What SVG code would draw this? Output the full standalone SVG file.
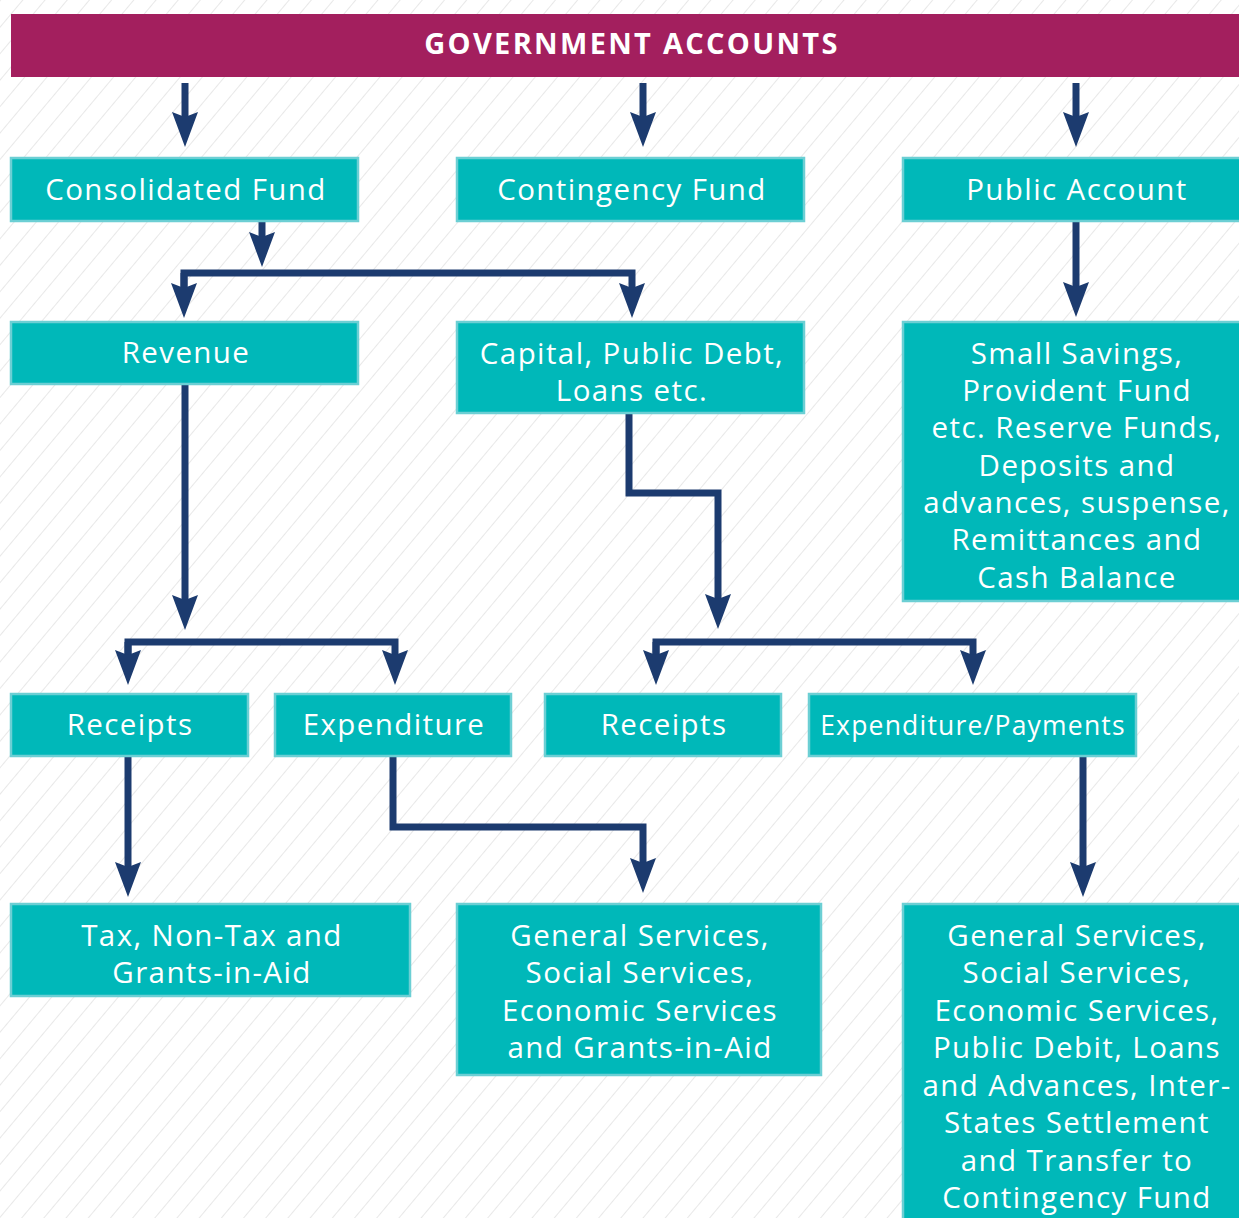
<svg xmlns="http://www.w3.org/2000/svg" width="1239" height="1218" viewBox="0 0 1239 1218">
<style>
.box{fill:#00b8b9;stroke:#6ccfd4;stroke-width:2.5}
.t{fill:#ffffff;font-family:"Open Sans","Noto Sans",sans-serif;font-size:29.5px;letter-spacing:1.4px;text-anchor:middle}
.h{fill:#ffffff;font-family:"Open Sans","Noto Sans",sans-serif;font-size:29px;font-weight:bold;letter-spacing:2.3px;text-anchor:middle}
.c{fill:none;stroke:#1c3b6f;stroke-width:7;stroke-linejoin:miter;stroke-linecap:butt}
</style>
<defs>
<pattern id="hatch" patternUnits="userSpaceOnUse" width="17" height="17" patternTransform="rotate(40)">
<line x1="0" y1="0" x2="0" y2="17" stroke="#e2e2e2" stroke-width="1.6"/>
</pattern>
<marker id="ah" markerUnits="userSpaceOnUse" viewBox="-8 -14 37 28" markerWidth="37" markerHeight="28" refX="0" refY="0" orient="auto">
<path d="M28,0 L-7,-13 L-2,0 L-7,13 Z" fill="#1c3b6f"/>
</marker>
</defs>
<rect width="1239" height="1218" fill="#ffffff"/>
<rect width="1239" height="1218" fill="url(#hatch)"/>

<g id="header">
<rect x="11" y="14" width="1228" height="63" fill="#a31f5e"/>
<text class="h" x="632" y="54">GOVERNMENT ACCOUNTS</text>
</g>

<g id="connectors">
<path class="c" d="M185,83 V119" marker-end="url(#ah)"/>
<path class="c" d="M643,83 V119" marker-end="url(#ah)"/>
<path class="c" d="M1076,83 V119" marker-end="url(#ah)"/>
<path class="c" d="M262,221 V239" marker-end="url(#ah)"/>
<path class="c" d="M184,290 V273 H632 V290" marker-end="url(#ah)"/>
<path class="c" d="M184,273 V290" marker-end="url(#ah)"/>
<path class="c" d="M1076,221 V289" marker-end="url(#ah)"/>
<path class="c" d="M185,384 V602" marker-end="url(#ah)"/>
<path class="c" d="M128,657 V642 H395 V657" marker-end="url(#ah)"/>
<path class="c" d="M128,642 V657" marker-end="url(#ah)"/>
<path class="c" d="M629,413 V493 H718 V601" marker-end="url(#ah)"/>
<path class="c" d="M656,657 V642 H973 V657" marker-end="url(#ah)"/>
<path class="c" d="M656,642 V657" marker-end="url(#ah)"/>
<path class="c" d="M128,756 V869" marker-end="url(#ah)"/>
<path class="c" d="M393,756 V827 H643 V865" marker-end="url(#ah)"/>
<path class="c" d="M1083,756 V869" marker-end="url(#ah)"/>
</g>

<g id="consolidated-fund">
<rect class="box" x="11" y="158" width="347" height="63"/>
<text class="t" x="186" y="200">Consolidated Fund</text>
</g>
<g id="contingency-fund">
<rect class="box" x="457" y="158" width="347" height="63"/>
<text class="t" x="632" y="200">Contingency Fund</text>
</g>
<g id="public-account">
<rect class="box" x="903" y="158" width="340" height="63"/>
<text class="t" x="1077" y="200">Public Account</text>
</g>
<g id="revenue">
<rect class="box" x="11" y="322" width="347" height="62"/>
<text class="t" x="186" y="363">Revenue</text>
</g>
<g id="capital">
<rect class="box" x="457" y="322" width="347" height="91"/>
<text class="t" x="632" y="364">Capital, Public Debt,</text>
<text class="t" x="632" y="401">Loans etc.</text>
</g>
<g id="small-savings">
<rect class="box" x="903" y="322" width="340" height="279"/>
<text class="t" x="1077" y="364">Small Savings,</text>
<text class="t" x="1077" y="401">Provident Fund</text>
<text class="t" x="1077" y="438">etc. Reserve Funds,</text>
<text class="t" x="1077" y="476">Deposits and</text>
<text class="t" x="1077" y="513">advances, suspense,</text>
<text class="t" x="1077" y="550">Remittances and</text>
<text class="t" x="1077" y="588">Cash Balance</text>
</g>
<g id="receipts-revenue">
<rect class="box" x="11" y="694" width="237" height="62"/>
<text class="t" x="130" y="735">Receipts</text>
</g>
<g id="expenditure-revenue">
<rect class="box" x="275" y="694" width="236" height="62"/>
<text class="t" x="394" y="735">Expenditure</text>
</g>
<g id="receipts-capital">
<rect class="box" x="545" y="694" width="236" height="62"/>
<text class="t" x="664" y="735">Receipts</text>
</g>
<g id="expenditure-payments">
<rect class="box" x="809" y="694" width="327" height="62"/>
<text class="t" x="973" y="735" style="font-size:26.5px;letter-spacing:1.2px">Expenditure/Payments</text>
</g>
<g id="tax">
<rect class="box" x="11" y="904" width="399" height="92"/>
<text class="t" x="212" y="946">Tax, Non-Tax and</text>
<text class="t" x="212" y="983">Grants-in-Aid</text>
</g>
<g id="general-services-revenue">
<rect class="box" x="457" y="904" width="364" height="171"/>
<text class="t" x="640" y="946">General Services,</text>
<text class="t" x="640" y="983">Social Services,</text>
<text class="t" x="640" y="1021">Economic Services</text>
<text class="t" x="640" y="1058">and Grants-in-Aid</text>
</g>
<g id="general-services-capital">
<rect class="box" x="903" y="904" width="340" height="320"/>
<text class="t" x="1077" y="946">General Services,</text>
<text class="t" x="1077" y="983">Social Services,</text>
<text class="t" x="1077" y="1021">Economic Services,</text>
<text class="t" x="1077" y="1058">Public Debit, Loans</text>
<text class="t" x="1077" y="1096">and Advances, Inter-</text>
<text class="t" x="1077" y="1133">States Settlement</text>
<text class="t" x="1077" y="1171">and Transfer to</text>
<text class="t" x="1077" y="1208">Contingency Fund</text>
</g>
</svg>
